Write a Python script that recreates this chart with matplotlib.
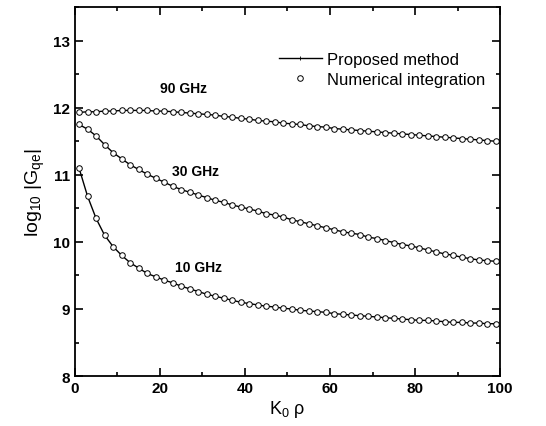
import numpy as np
import matplotlib
matplotlib.use("Agg")
import matplotlib.pyplot as plt
from matplotlib.ticker import MultipleLocator

plt.rcParams['font.family'] = ['Liberation Sans', 'DejaVu Sans']
plt.rcParams['mathtext.fontset'] = 'custom'
plt.rcParams['mathtext.rm'] = 'Liberation Sans'
plt.rcParams['mathtext.it'] = 'Liberation Sans'

# sample points along K0*rho
k_rho = np.arange(1, 100, 2)

g_90 = [11.93, 11.94, 11.94, 11.95, 11.95, 11.96, 11.96, 11.96, 11.96, 11.95,
        11.95, 11.94, 11.93, 11.92, 11.91, 11.90, 11.89, 11.87, 11.86, 11.84,
        11.83, 11.81, 11.80, 11.79, 11.77, 11.76, 11.75, 11.73, 11.72, 11.71,
        11.69, 11.68, 11.67, 11.66, 11.65, 11.64, 11.63, 11.62, 11.61, 11.60,
        11.59, 11.58, 11.57, 11.56, 11.55, 11.54, 11.53, 11.52, 11.51, 11.50]

g_30 = [11.75, 11.68, 11.58, 11.45, 11.33, 11.24, 11.15, 11.08, 11.01, 10.95,
        10.89, 10.83, 10.78, 10.74, 10.70, 10.66, 10.62, 10.59, 10.55, 10.52,
        10.49, 10.46, 10.42, 10.40, 10.37, 10.33, 10.30, 10.27, 10.24, 10.21,
        10.18, 10.15, 10.13, 10.11, 10.07, 10.05, 10.02, 9.99, 9.96, 9.94,
        9.91, 9.88, 9.85, 9.82, 9.80, 9.77, 9.75, 9.73, 9.72, 9.71]

g_10 = [11.10, 10.68, 10.35, 10.10, 9.93, 9.80, 9.69, 9.61, 9.53, 9.48,
        9.43, 9.39, 9.34, 9.30, 9.26, 9.22, 9.19, 9.16, 9.13, 9.10,
        9.08, 9.06, 9.04, 9.03, 9.01, 9.00, 8.98, 8.97, 8.96, 8.95,
        8.93, 8.92, 8.91, 8.90, 8.89, 8.88, 8.87, 8.86, 8.85, 8.84,
        8.83, 8.83, 8.82, 8.81, 8.80, 8.80, 8.79, 8.79, 8.78, 8.78]

curves = [("90 GHz", g_90, (20, 12.30)),
          ("30 GHz", g_30, (22.8, 11.05)),
          ("10 GHz", g_10, (23.5, 9.62))]

fig = plt.figure(figsize=(5.46, 4.27), dpi=100)
ax = fig.add_axes([0.137, 0.117, 0.779, 0.864])

for i, (name, vals, pos) in enumerate(curves):
    ax.plot(k_rho, vals, color='black', lw=1.0, marker='+', ms=3, mew=0.6,
            label='Proposed method' if i == 0 else None)
    ax.plot(k_rho, vals, ls='none', marker='o', ms=4, mfc='white', mec='black',
            mew=0.7, label='Numerical integration' if i == 0 else None)
    ax.text(pos[0], pos[1], name, fontsize=10, fontweight='bold', va='center')

ax.set_xlim(0, 100)
ax.set_ylim(8, 13.5)
ax.xaxis.set_major_locator(MultipleLocator(20))
ax.xaxis.set_minor_locator(MultipleLocator(10))
ax.yaxis.set_major_locator(MultipleLocator(1))
ax.yaxis.set_minor_locator(MultipleLocator(0.5))
ax.tick_params(which='both', direction='in', top=True, right=True, width=1.2)
ax.tick_params(which='major', length=6, labelsize=11)
ax.tick_params(which='minor', length=3)
for lab in ax.get_xticklabels() + ax.get_yticklabels():
    lab.set_fontweight('bold')
for sp in ax.spines.values():
    sp.set_linewidth(1.3)

ax.set_xlabel(r'K$_0$ ρ', fontsize=13, labelpad=2)
ax.set_ylabel(r'log$_{10}$ |G$_{qe}$|', fontsize=14, labelpad=4)

ax.legend(loc='upper right', bbox_to_anchor=(1.0, 0.92), frameon=False,
          fontsize=12, handlelength=2.6, handletextpad=0.3, labelspacing=0.3)

fig.savefig('out.png', dpi=100)
